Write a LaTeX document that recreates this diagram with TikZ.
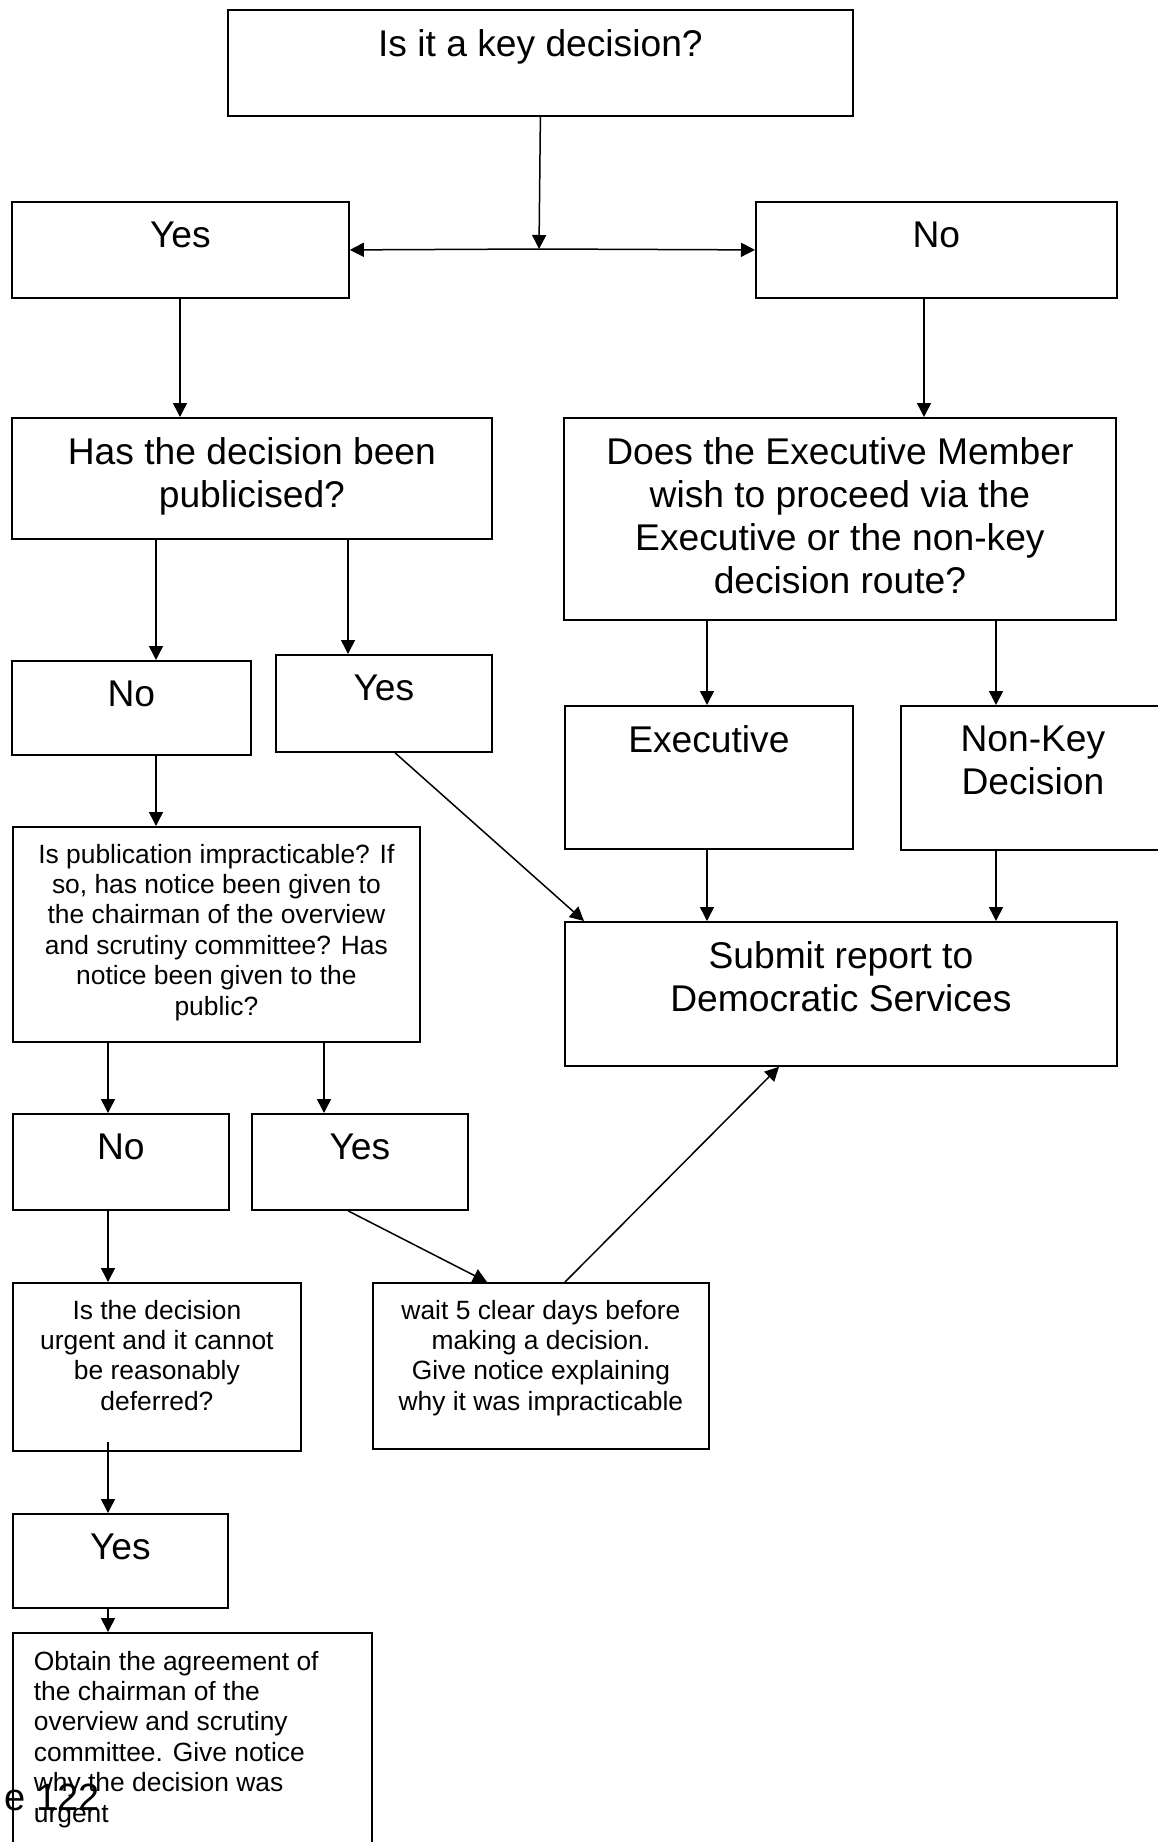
\documentclass[tikz,border=0pt]{standalone}
\usepackage{fontspec}
\setmainfont{Liberation Sans}
\usetikzlibrary{arrows.meta, positioning, calc}
\newcommand{\bigtxt}{\fontsize{18.6}{21.5}\selectfont}
\newcommand{\smalltxt}{\fontsize{13.2}{15.2}\selectfont}
% box contents: width and height in px, top gap, text
\newcommand{\boxc}[4]{\parbox[c][\dimexpr #2pt/2\relax][t]{\dimexpr #1pt/2\relax}{\centering\vspace*{#3}#4\par}}
\newcommand{\boxl}[4]{\parbox[c][\dimexpr #2pt/2\relax][t]{\dimexpr #1pt/2\relax}{\raggedright\leftskip=10.5pt\vspace*{#3}#4\par}}
\tikzset{
  flowbox/.style={draw, line width=0.9pt, inner sep=0pt, anchor=north west},
  arr/.style={line width=0.75pt, -{Triangle[length=7pt, width=7pt]}},
}

\begin{document}
\begin{tikzpicture}[x=0.5pt, y=-0.5pt]
  \useasboundingbox (0,0) rectangle (1157,1842);

  % Top question
  \node[flowbox] (key) at (227,9) {\boxc{625}{106}{10pt}{\bigtxt Is it a key decision?}};
  \node[flowbox] (yesA) at (11,201) {\boxc{337}{96}{10pt}{\bigtxt Yes}};
  \node[flowbox] (noA) at (755,201) {\boxc{361}{96}{10pt}{\bigtxt No}};

  % Second level
  \node[flowbox] (pub) at (11,417) {\boxc{480}{121}{10pt}{\bigtxt Has the decision been\\publicised?}};
  \node[flowbox] (route) at (563,417) {\boxc{552}{202}{10pt}{\bigtxt Does the Executive Member\\wish to proceed via the\\Executive or the non-key\\decision route?}};
  \node[flowbox] (noB) at (11,660) {\boxc{239}{94}{10pt}{\bigtxt No}};
  \node[flowbox] (yesB) at (275,654) {\boxc{216}{97}{10pt}{\bigtxt Yes}};
  \node[flowbox] (exec) at (564,705) {\boxc{288}{143}{10pt}{\bigtxt Executive}};
  \node[flowbox] (nonkey) at (900,705) {\boxc{264}{144}{10pt}{\bigtxt Non-Key\\Decision}};

  % Publication not possible
  \node[flowbox] (impr) at (12,826) {\boxc{407}{215}{8.5pt}{\smalltxt Is publication impracticable? If\\so, has notice been given to\\the chairman of the overview\\and scrutiny committee? Has\\notice been given to the\\public?}};
  \node[flowbox] (submit) at (564,921) {\boxc{552}{144}{10pt}{\bigtxt Submit report to\\Democratic Services}};
  \node[flowbox] (noC) at (12,1113) {\boxc{216}{96}{10pt}{\bigtxt No}};
  \node[flowbox] (yesC) at (251,1113) {\boxc{216}{96}{10pt}{\bigtxt Yes}};
  \node[flowbox] (urgent) at (12,1282) {\boxc{288}{168}{8.5pt}{\smalltxt Is the decision\\urgent and it cannot\\be reasonably\\deferred?}};
  \node[flowbox] (wait) at (372,1282) {\boxc{336}{166}{8.5pt}{\smalltxt wait 5 clear days before\\making a decision.\\Give notice explaining\\why it was impracticable}};
  \node[flowbox] (yesD) at (12,1513) {\boxc{215}{94}{10pt}{\bigtxt Yes}};
  \node[flowbox] (obtain) at (12,1632) {\boxl{359}{228}{9pt}{\smalltxt Obtain the agreement of\\the chairman of the\\overview and scrutiny\\committee. Give notice\\why the decision was\\urgent}};
  \node[anchor=base east, inner sep=0pt] (page) at (100,1810) {\fontsize{19}{22}\selectfont e 122};

  % Connector columns
  \coordinate (split) at (539,249);
  \coordinate (cYesA) at (180,0);
  \coordinate (cNoA) at (924,0);
  \coordinate (cNoB) at (156,0);
  \coordinate (cYesB) at (348,0);
  \coordinate (cExec) at (707,0);
  \coordinate (cNonKey) at (996,0);
  \coordinate (cLeft) at (108,0);
  \coordinate (cYesC) at (324,0);
  \coordinate (dYesB) at (395,0);
  \coordinate (dYesC) at (348,0);
  \coordinate (dWaitIn) at (487,0);
  \coordinate (dWaitOut) at (565,0);
  \coordinate (dSubIn) at (779,0);

  % Connectors
  \draw[arr] (key.south) -- (split);
  \draw[arr] (split) -- (yesA.east);
  \draw[arr] (split) -- (noA.west);
  \draw[arr] (yesA.south -| cYesA) -- (pub.north -| cYesA);
  \draw[arr] (noA.south -| cNoA) -- (route.north -| cNoA);
  \draw[arr] (pub.south -| cNoB) -- (noB.north -| cNoB);
  \draw[arr] (pub.south -| cYesB) -- (yesB.north -| cYesB);
  \draw[arr] (route.south -| cExec) -- (exec.north -| cExec);
  \draw[arr] (route.south -| cNonKey) -- (nonkey.north -| cNonKey);
  \draw[arr] (noB.south -| cNoB) -- (impr.north -| cNoB);
  \draw[arr] (exec.south -| cExec) -- (submit.north -| cExec);
  \draw[arr] (nonkey.south -| cNonKey) -- (submit.north -| cNonKey);
  \draw[arr] (yesB.south -| dYesB) -- ([xshift=10pt]submit.north west);
  \draw[arr] (impr.south -| cLeft) -- (noC.north -| cLeft);
  \draw[arr] (impr.south -| cYesC) -- (yesC.north -| cYesC);
  \draw[arr] (noC.south -| cLeft) -- (urgent.north -| cLeft);
  \draw[arr] (yesC.south -| dYesC) -- (wait.north -| dWaitIn);
  \draw[arr] (wait.north -| dWaitOut) -- (submit.south -| dSubIn);
  \draw[arr] ($(urgent.south -| cLeft)+(0,-10)$) -- (yesD.north -| cLeft);
  \draw[arr] (yesD.south -| cLeft) -- (obtain.north -| cLeft);
\end{tikzpicture}
\end{document}
